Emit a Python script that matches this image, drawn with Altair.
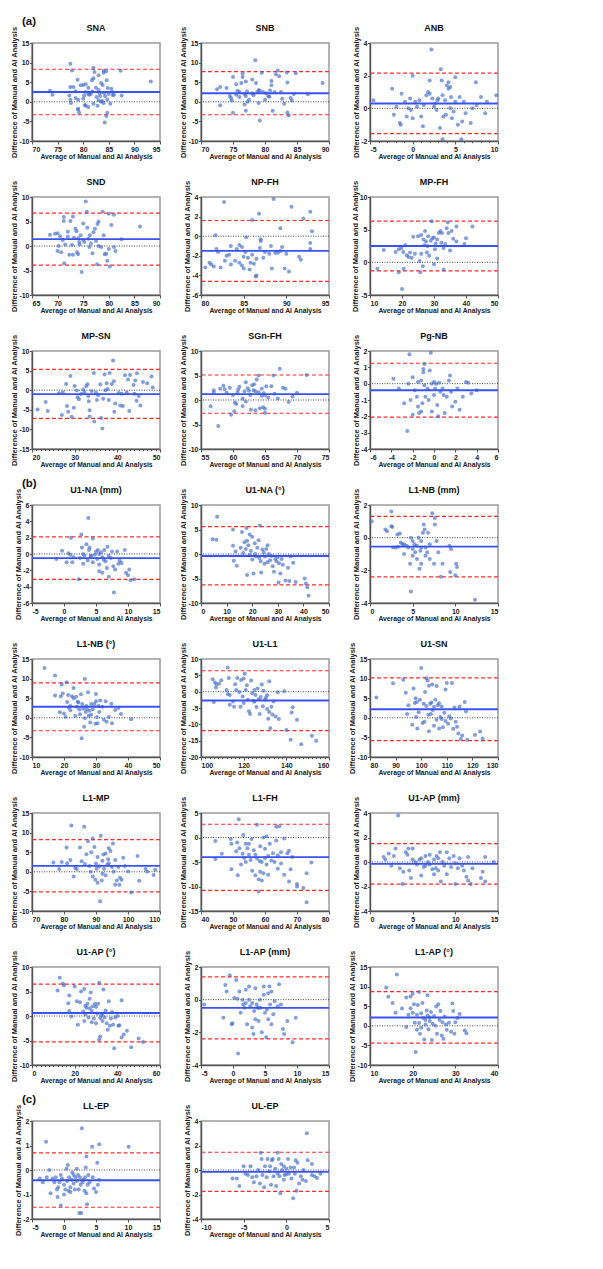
import altair as alt
import pandas as pd

XT = "Average of Manual and AI Analysis"
YT = "Difference of Manual and AI Analysis"

# ---------------- (a) ----------------
SNA = [(73.5, 2.8), (74, 1.8), (77.5, 9.7), (77.8, 8), (77.5, 3.8), (77.3, 1.6), (77.6, -0.3), (77.5, 0.5),
       (78.1, 3.8), (78.5, 2.7), (78.9, 5.6), (79, -1.8), (79, -2), (79.2, -2.8), (78.5, 1), (79, 0.5),
       (79.5, 4.2), (80, 4.3), (80.5, 4.5), (80.2, 1.6), (80.5, -1), (80.3, -0.8), (81, 3.6), (81, 2),
       (81.2, 1.8), (81.5, 2), (81, -1.3), (81.7, 5.5), (82, 6), (82, 8.7), (82.2, 7.6), (82.5, 3.6),
       (82, -0.5), (82.6, 1.2), (83, 6.8), (83, 3), (83.3, 1.5), (83.5, 4.8), (83.5, 0), (83.7, 0.2),
       (83, 0.4), (84, 7.4), (84, 7.9), (84.5, 7.8), (84.3, 1.4), (84.1, 2.2), (84, -0.3), (84.2, -5.3),
       (84.5, -3.6), (84.7, -2.8), (84.6, 5.5), (84.8, 3.5), (85, 2), (85.5, 3.3), (85.3, -0.5), (85.8, 1.7),
       (85.7, 2.5), (86, 1.8), (87.3, 7.9), (87.5, 1.6), (93.2, 5.2), (80.5, 2.5), (81.8, 2.6), (83.8, 4.3),
       (83.2, 2.2), (84.7, 0.5), (82.8, -1), (80, 0.8)]
SNB = [(72.5, 3.2), (73, 3.8), (73, -0.9), (74, 3.5), (74.5, 1.5), (74.7, 1), (75, 6.3), (74.8, 0.3),
       (75.5, 4.5), (75.7, 2.8), (75.5, 1.8), (76, 2.5), (76.3, 4.8), (76.5, 6.3), (76.5, 7.2), (76.8, 2),
       (77, 5.2), (77, 1.5), (76.8, -0.7), (77, -2.3), (77.2, 2.7), (77.5, 0.5), (77.3, 0), (78, 2.2),
       (78, 5.7), (78.5, 10.6), (78.6, 4.8), (78.8, 2.5), (79, 3), (79.2, 2.8), (79.2, -4.8), (79, -0.3),
       (79.5, 7.4), (79.7, 2.5), (80, 0.5), (80.2, 2.2), (80.5, 1.4), (80.7, 1.3), (81, 5.3), (81, 4.2),
       (81.2, -2.3), (81.5, 2.5), (81.7, 7), (82, 8), (82.2, 6.5), (82.5, 2.5), (82.7, 0.8), (83, -0.5),
       (83.4, 7.5), (83.5, 4.9), (83.7, -3.5), (83.5, -2.7), (84, 1), (84.2, 0.3), (84.8, 7.3), (84.5, 2),
       (86.7, 1.9), (89, 4.8), (75, -2.8), (76, 1.2), (78.2, 1.7), (80.8, 2.9)]
ANB = [(-4.6, 0.5), (-2.4, 1.2), (-2.2, -0.4), (-1.4, -1), (-1.5, -0.9), (-1.9, 0.1), (-0.9, 0.4), (-1.3, 0.9),
       (-0.5, 0.0), (-0.3, 0.6), (0, 2), (-0.2, -0.1), (0, -0.6), (0.3, 0.4), (0.5, 0.1), (0.8, 0.5),
       (1, -0.5), (1.3, 0.2), (1.6, 0.8), (1.8, 1.0), (2, 1.7), (2.2, 3.6), (2.3, 0.6), (2.5, 0.1),
       (2.6, 0.3), (2.8, -0.1), (2.9, 0.5), (3, 0.6), (3.2, -1.2), (3.3, 2.4), (3.4, 1.7), (3.5, 0.8),
       (3.5, -1.9), (3.6, -0.5), (3.8, 0.5), (3.9, -0.4), (4.0, 1.4), (4.2, 1.2), (4.2, 1.6), (4.4, 1.3),
       (4.5, 0.7), (4.4, 0), (4.6, -0.6), (4.8, -0.2), (5.0, 1.9), (5.0, 0.4), (5.3, -1.0), (5.5, 0.7),
       (5.7, -1.9), (5.8, -0.8), (6.0, 0.4), (6.2, -0.3), (7.0, 0), (7.4, 1.6), (7.5, 0.2), (8.0, 0.7),
       (8.5, -0.3), (8.7, 0.4), (9.8, 0.8), (6.8, -0.9), (2.0, 0.9), (1.2, -1.1), (-0.7, -0.5)]
SND = [(68.5, 2.3), (69.5, 2.5), (70, 2.6), (70, -1), (70.2, 0), (70.5, 2), (70.7, -1.3), (71, 1.2),
       (71.2, 5.9), (71.2, 5.1), (71.3, -3.5), (71.5, 0.3), (72, 1.9), (72, 2.9), (72.3, -1.8), (72.5, 5.1),
       (72.8, 0.2), (73, 6), (73, -1.8), (73.2, 1.7), (73.5, 3.5), (73.7, 3.0), (73.8, -1.3), (74, -1.7),
       (74, 1.6), (74.3, 0.3), (74.5, 2.2), (74.7, -5.3), (75, 4.6), (75, 1.3), (75.2, 0.8), (75.5, 9.1),
       (75.7, 7), (75.8, 3.7), (76, 1.5), (76.3, 2.2), (76.5, 0.5), (76.8, -1.5), (77, 2.8), (77.3, 3.5),
       (77.5, 1.0), (77.7, -3.7), (77.8, 4.5), (78, 5), (78, 0), (78.5, -0.2), (78.8, 7), (79, 2.2),
       (79.2, -1.7), (79.5, -1.6), (79.7, -3.0), (80, 6.6), (80, -0.6), (80.2, -4.2), (80.5, 4.3), (81, 6.4),
       (81, -0.2), (81.3, -1), (82.5, 1.4), (86.1, 4), (76.2, -0.2), (74.2, 0.8)]
NPFH = [(80.5, -3.2), (81, -2.7), (81.2, -2.9), (81.5, -3.1), (81.7, 0.1), (81.8, -1.3), (82, -1.6), (82.3, -3.2),
        (82.7, 3.5), (82.8, -2.5), (83, -2), (83.3, -1.9), (83.5, -1), (83.5, -2.9), (84, -2.5), (84.2, -1.3),
        (84.5, -0.9), (84.5, -2.7), (84.8, -3.0), (85, -2.1), (85, -3.3), (85.2, -1.6), (85.5, -2.2), (85.3, -0.1),
        (85.7, -3.4), (86, -1.9), (86, 1.65), (86.2, -2.8), (86.4, -4.1), (86.5, -4.0), (86.5, -2.3), (86.8, 2.3),
        (86.9, -1.2), (87, -0.3), (87, -0.5), (87.3, -2.2), (87.5, -1.6), (88, -1.8), (88.2, -1.0), (88.3, -3.3),
        (88.5, 3.8), (88.7, -1.7), (89, -1.7), (89.3, -1.5), (89.3, 0.8), (89.5, -1.1), (89.8, -3.3), (90, -1.8),
        (90.3, -3.6), (90.6, 3.0), (91.5, -2.1), (91.7, -2.4), (92, 1.8), (92.8, 2.5), (92.8, -0.7), (92.8, -1.3),
        (93, 0.5), (84.8, -1.1), (85.8, -2.7)]
MPFH = [(12.3, -1.0), (14.3, 1.9), (18, 1.6), (19, -1.5), (19, 2), (19.8, 2.2), (20, -4.1), (20.4, 1.6),
        (20.5, -1.0), (21, 2.6), (21.5, 1.1), (22, 0.8), (22.5, 1.5), (23, 0.7), (23.5, 3.9), (24, 1.3),
        (25, 4.0), (25.5, 0.2), (25.7, -1.5), (26, 4.2), (26, 1.3), (26.5, -0.6), (26.7, 3.5), (27, 2.6),
        (27.2, 4.8), (27.5, 3.2), (28, 2.5), (28.2, 4), (28.5, 1.0), (29, 3.3), (29.3, 6.3), (29.5, 3.7),
        (30, 3.8), (30.3, 2.0), (30.5, 2.9), (31, 3.5), (31, 0.6), (31.5, 4.5), (32, 4.8), (32.3, 3.0),
        (32.5, 4.5), (33, 2.2), (33, -1.1), (33.5, 2.8), (34, 5.2), (34.3, 6.1), (34.5, 4.5), (35, 1.8),
        (35.5, 4.8), (36, 3.6), (37, 5.5), (37, 3.2), (39.5, 2.8), (40, 3.7), (42, 5.5), (30, -0.3), (27.8, 1.5)]
MPSN = [(21.3, -4.9), (23.2, -3), (23.7, -5.3), (26.3, -0.8), (27, -6.3), (27.2, -0.5), (28, 1.6), (28.2, -4),
        (28.5, -5.5), (29, 3.6), (29.3, -6.8), (29.8, -4.5), (30, 1.1), (30.5, -0.1), (30.7, -1.8), (31, -2.3),
        (31.5, -1.0), (32, 0.2), (32.3, -0.5), (32.7, 1.0), (33, 1.5), (33.2, -1.5), (33.3, -2.8), (33.5, -5.1),
        (33.5, -6.7), (34, -0.2), (34.5, 4.4), (34.6, -8), (35, -0.6), (35.2, -2.5), (35.5, -1.3), (36, 1.5),
        (36.2, -7.1), (36.5, -9.8), (36.7, -2.2), (37, 4.0), (37.2, 0.0), (37.5, 1.8), (37.7, 0.3), (38, -2.5),
        (38.2, 4.4), (38.7, 1.6), (39, 7.6), (39.2, 2.3), (39.3, -5.5), (39.5, -3.4), (40.3, -0.7), (40.7, -3.9),
        (41, -0.9), (41.3, -4), (41.8, 3.8), (42.2, -0.6), (42.5, 2.7), (42.8, -5.3), (43, 3.9), (43.8, 1.3),
        (44, -0.9), (44.2, 2.5), (44.5, -2.7), (45, -1.5), (44.6, 4.3), (45.4, -3.9), (46, 2.1), (47, 1.8),
        (48, 3.5), (48.3, 0.7)]
SGNFH = [(56.5, -1.3), (57, 1.5), (57, 2), (57.7, -5.3), (58, 2.3), (58.5, 2.9), (58.7, 2.2), (59, 1.5),
         (59.5, 2.5), (59.7, -3.0), (60, 1.0), (60.2, -2.3), (60.3, -0.5), (60.5, -0.8), (60.8, 2.1), (61, 2.7),
         (61.5, 0.3), (61.5, -1.2), (61.8, 1.8), (62, -0.3), (62, 3.6), (62.3, 2.4), (62.5, 1.9), (62.8, -2.0),
         (63, 3.0), (63.2, 2.0), (63.3, 3.2), (63.5, -2.1), (63.5, 1.8), (63.7, 4.2), (64, 5), (64, 1.6),
         (64.2, -1.7), (64.5, 0.8), (64.5, 2.3), (64.7, -1.5), (64.8, 1.4), (65, -1.8), (65, -2.6), (65, 1.0),
         (65.2, 2.8), (65.5, 0.5), (66, 2.8), (66.3, 5), (66.5, 1.3), (67, 0.3), (67.3, 6.4), (67.8, 2.5),
         (68.2, 2.3), (68.7, -0.4), (69.3, 0.7), (70, 1.5), (71.5, 5.1), (62.7, 1.0), (60.7, 1.5)]
PGNB = [(-3.8, 0.3), (-3.3, -0.3), (-2.8, -1.2), (-2.5, -2.9), (-2.4, 0), (-2.3, 1.8), (-2.2, -1.0), (-2.0, 0.4),
        (-2.0, -1.9), (-1.8, -0.4), (-1.6, -0.8), (-1.5, 0.1), (-1.5, -1.4), (-1.4, -1.8), (-1.2, 0.2), (-1.1, -1.2),
        (-1.0, 0.9), (-1.0, 0.7), (-0.9, 1.2), (-0.9, -0.1), (-0.8, -0.8), (-0.6, -0.3), (-0.5, -1.0), (-0.4, 0.8),
        (-0.3, 1.9), (-0.2, 0.0), (-0.2, -1.7), (0.0, 0.1), (0.0, -0.7), (0.1, -0.3), (0.2, 0.0), (0.3, -1.3),
        (0.4, -2.0), (0.5, 0.05), (0.6, -0.5), (0.8, -0.3), (1.0, -1.8), (1.2, -0.8), (1.4, 0.2), (1.5, 0.5),
        (1.6, -0.5), (1.7, -1.4), (2.0, -1.1), (2.2, -0.3), (2.4, -1.6), (2.7, -0.8), (3.0, 0.1), (3.2, 0.05),
        (3.5, -0.6), (4.0, -0.4), (-1.2, -1.7), (0.9, -0.7)]

# ---------------- (b) ----------------
U1NA_MM = [(-1.2, -0.6), (-0.3, 0.4), (0.4, -1.0), (0.7, 0.1), (1.0, -0.1), (1.1, 2.0), (1.3, -1.0), (1.5, -0.4),
           (2.3, -3.1), (2.5, -0.5), (2.7, 2.4), (2.8, 0.8), (3.0, 0), (3.0, -1.2), (3.2, -0.2), (3.5, 1.2),
           (3.7, -0.8), (3.8, 4.4), (3.9, 0.5), (4.0, 0.8), (4.2, -0.3), (4.5, 1.9), (4.5, -1.0), (4.8, -0.1),
           (5.0, 0.3), (5.2, -0.6), (5.3, 0.5), (5.5, -1.3), (5.5, -2.1), (5.8, 0.2), (6.0, -0.4), (6.0, -2.3),
           (6.3, 0.5), (6.5, -0.9), (6.7, -1.7), (6.8, 0.9), (7.0, -2.8), (7.0, -0.2), (7.3, -0.5), (7.5, 0.3),
           (7.7, -1.5), (7.8, -4.7), (8.0, -1.9), (8.3, 0.3), (8.5, -1.2), (8.7, -0.8), (9.0, -1.1), (9.5, 0.5),
           (9.7, -2.3), (10.0, -2.6), (10.2, -1.9), (10.4, -3.2), (11.0, -3.1), (5.5, 0.0), (6.2, -0.7), (4.2, -0.2)]
U1NA_DEG = [(4.5, 3.0), (6, 2.9), (6.3, 7.6), (12.5, 5.0), (12.5, 1.7), (12.8, -1.4), (13.5, 0.5), (14, -2.4),
            (15.5, 1.3), (16, 4.5), (16.5, 0.2), (17, 2.4), (17.5, 1.0), (17.8, 5.3), (18, 2.7), (18, -4.3),
            (18.5, 1.8), (19, 4.0), (19.5, 0.6), (20, 3.5), (20, -1.1), (20.5, -4.0), (21, 2.2), (21.2, 0.0),
            (21.5, -0.5), (22, 1.3), (22.5, 2.8), (22.8, -0.8), (23, 5.8), (23.3, -1.5), (23.5, -3.8), (24, 0.9),
            (24.5, 0.3), (24.8, -2.0), (25, -0.5), (25.5, 1.0), (26, -1.7), (26.5, 0.0), (27, -1.3), (27.5, -0.4),
            (28, -2.5), (28.5, -3.6), (29, -1.0), (29.5, -1.5), (30, -0.6), (30.3, -5.8), (30.5, -1.9), (31, -4.0),
            (31.5, -1.0), (32, -2.2), (33, -5.4), (34, -2.8), (34.5, -5.5), (35, -0.5), (36, -1.8), (37, -5.7),
            (40.5, -5.0), (41, -6.0), (41.5, -6.8), (42, -8.5), (26, 1.8), (19, -0.2)]
L1NB_MM = [(0.2, 1.0), (1.8, 0.5), (2.0, 0.4), (2.5, 1.6), (2.5, 0.7), (2.6, 0.65), (2.7, -0.6), (3.0, -0.6),
           (3.2, 0.2), (3.3, -0.55), (3.5, 0.25), (3.6, -0.3), (3.8, -0.4), (4.0, -1.0), (4.0, -0.4), (4.3, -0.5),
           (4.5, -0.6), (4.7, -1.6), (4.8, 0.0), (4.8, -3.3), (5.0, -1.1), (5.0, -0.7), (5.2, -0.4), (5.3, -0.9),
           (5.5, -0.5), (5.5, -1.3), (5.7, 0.0), (5.8, -1.9), (5.9, -0.8), (6.0, -0.2), (6.0, -1.6), (6.2, 0.3),
           (6.3, 0.8), (6.4, 0.5), (6.5, -0.6), (6.5, -1.1), (6.7, -0.9), (6.8, 0.3), (7.0, -1.3), (7.0, -0.4),
           (7.3, 1.5), (7.5, -1.6), (7.6, 1.2), (7.6, 0.8), (7.8, -0.2), (8.0, -0.9), (8.5, -1.6), (8.3, -2.4),
           (9.3, -0.5), (9.4, -2.1), (9.5, -0.7), (10.0, -2.3), (10.1, -1.6), (10.2, -1.8), (12.3, -3.8),
           (6.0, -0.6), (5.0, -0.2)]
L1NB_DEG = [(13.9, 12.7), (17.2, 10.8), (17.2, 5.7), (18.7, 1.4), (19, 5.5), (19.3, 8.5), (19.6, 6.2), (20, 1.1),
            (20.5, 0.2), (20.8, 9.1), (21, 4.0), (21.3, 5.8), (21.5, 2.6), (22, 3), (22, 1.9), (22.5, 5.5),
            (23, 7.6), (23, 5.0), (23.5, 0.5), (23.8, 5.4), (24, 2.8), (24.3, 4.1), (24.5, 3.9), (24.8, 2.1),
            (25, 0.9), (25.3, 6.0), (25.5, -5.2), (25.7, 3.5), (26, 2.3), (26.3, -2.3), (26.5, 9.9), (26.5, -0.1),
            (26.8, 1.5), (27, 3.0), (27.2, 2.2), (27.5, 6.5), (27.7, 0.5), (28, 1.8), (28.2, -1.2), (28.5, 3.5),
            (29, 2.2), (29.5, 3.5), (29.8, -1.5), (30, 6.1), (30, 4.2), (30.3, 0.2), (30.5, -1.4), (30.8, 3.0),
            (31, 1.5), (31.3, 4.4), (32, 2.8), (32.5, -0.5), (33, 4.2), (33.3, -1.0), (34, 0.2), (34.8, 3.6),
            (35, -1.4), (36, 2.0), (37, 2.5), (37.8, 1.0), (41, -0.4), (28.5, 0.8)]
U1L1 = [(105.5, 3.8), (106, -3.2), (106.5, 2.8), (107, 1.3), (107.3, 2.3), (108.5, 2.5), (109.5, 3.5), (112, 0.5),
        (112.5, 7.4), (112.5, -0.7), (113, 4.2), (113.5, -1.0), (113.5, -4.0), (115, -3.0), (115.5, -4.6), (116, 2.3),
        (116.5, 0.5), (117, 4.2), (118, -0.1), (118.5, -4.6), (118.8, 3.6), (119.5, -1.5), (120, 4.0), (120.5, 5.5),
        (121, 0.5), (121.5, 2.0), (122, -2.5), (122.5, -6.0), (123, -6.8), (123.5, 3.4), (124, -0.5), (124.5, -2.8),
        (125, -3.1), (125.5, -1.0), (126, -4.7), (126.5, 1.0), (127, -2.3), (127.5, -6.8), (128, -1.6), (128.5, 2.2),
        (129, -4.5), (129.3, 0.3), (130, -2.5), (130.5, -1.8), (131, -5.3), (131.5, -8.3), (132, -6.2), (132, 3.2),
        (132.5, -11.2), (133, -4.6), (133.5, -7.0), (134, -3.0), (135, -7.6), (136, -0.2), (136.5, -8.4), (139, 0.1),
        (140, -11.7), (142, -14.7), (142.5, -6.4), (143, -4.8), (145, -8.6), (147, -16.1), (152, -13.5), (154, -15),
        (120, -3.5), (125, 0.5), (131, -1)]
U1SN = [(82.5, 5.2), (89, 8.8), (93, 9.7), (94, 6.4), (94.5, 1.0), (95, 3.2), (96.5, -1.8), (97, 7.5),
        (97.5, 3.8), (97.8, 5.0), (98, 0.2), (98.3, 4.0), (98.5, -2.7), (99, 1.4), (99.5, 4.6), (100, 12.7),
        (100.5, -1.3), (101, 3.6), (101.3, -1.0), (101.5, 6.6), (102, 10.1), (102, 3.0), (102.5, 9.5), (102.8, 0.8),
        (103, 8.2), (103, -3.4), (103.5, 3.6), (103.8, 1.0), (104, 3.9), (104.3, 8.5), (104.5, 2.0), (105, 2.8),
        (105, -2.0), (105.5, 4.6), (106, -0.5), (106, 8.1), (106.5, 3.2), (107, -2.7), (107, 3.7), (107.5, 0.2),
        (108, 2.9), (108.5, -2.4), (109, 1.3), (109.5, 7.2), (109.5, -0.8), (110, 8.9), (110.5, -1.5), (111, 0.4),
        (111.5, -0.2), (112, 8.9), (112.5, -2.8), (113, 2.6), (113.5, -1.0), (114, -2.3), (114.5, -4.0), (115, 2.9),
        (115.5, -5.4), (116, -4.5), (117, 4.0), (117.5, 1.6), (118, -5.6), (121, -4.4), (123, -3.5), (124, -5.3),
        (108, -0.3)]
L1MP = [(76.7, 2.4), (78.5, 0.7), (79.3, 2.5), (80.8, 6.2), (81, 2.2), (82, 3.0), (82.3, 11.8), (83, -1.2),
        (83.5, 1.0), (84, 0.7), (85, 6.2), (85.5, 2.7), (86.3, 11.5), (86.5, 2.0), (87, 4.5), (87.5, 7.8),
        (88, 1.5), (88.3, 0.0), (88.5, 5.0), (89, 8.5), (89, -1.2), (89.5, 6.3), (89.8, -2.0), (90, 2.1),
        (90.2, 0.8), (90.5, 3.8), (90.5, -2.8), (91, 1.4), (91.3, -7.5), (91.5, 9.2), (91.8, -2.2), (92, 2.8),
        (92.3, 4.4), (92.5, 0.8), (93, 4.7), (93, -0.9), (93.5, 1.8), (93.8, 3.2), (94, 6.0), (94.5, 5.3),
        (95, 1.2), (95.3, 7.2), (95.5, 0.0), (96, -3.3), (96, 3.0), (96.5, -2.2), (97, 1.2), (97.3, -3.3),
        (97.5, -1.5), (98, -2.0), (98.5, 3.6), (99, 1.5), (100, 0.1), (101, -5.3), (103, 4.0), (103.5, -2.3),
        (105.5, 0.7), (106, 0.0), (108, -0.8), (108.5, 0.5), (92, -0.5), (94, 2.2)]
L1FH = [(44.5, -0.7), (44.5, -4.4), (46.5, -3.3), (49.3, -0.3), (49.5, -1.3), (49.5, -6.5), (51, -2.8), (51.3, -1.0),
        (51.5, -7.7), (51.8, 3.7), (52, -2.2), (52.5, -5.5), (53, -3.3), (53.2, 0.5), (53.5, -4.2), (54, -1.3),
        (54, -5.0), (54.5, -2.2), (55, -3.5), (55, -1.3), (55.5, -4.6), (55.8, -0.3), (56, -6.8), (56.5, -2.6),
        (57, -7.7), (57, -3.5), (57.5, 2.6), (57.5, -4.3), (58, -8.5), (58, -11.0), (58.3, -4.8), (58.5, -1.8),
        (58.5, -7.0), (59, -5.0), (59, -8.8), (59.5, 0.0), (59.5, -7.3), (60, -2.3), (60.5, 0.2), (60.5, -5.5),
        (61, -3.8), (61, -7.6), (61.5, -1.3), (62, -4.7), (62.5, -3.2), (63, -5.0), (63.5, -0.6), (63.5, 2.2),
        (64, -3.6), (64, -6.4), (64.5, 2.3), (65, -3.0), (65, -5.3), (66, -0.2), (66, -7.6), (67, -3.2),
        (67.5, -2.7), (67.5, -9.0), (68, -6.5), (68.5, -4.0), (70, -9.5), (70, -10.0), (72, -10.3), (73, -13.2),
        (73, -7.3), (74.5, -5.1), (60, -4.2)]
U1AP_MM = [(1.6, 0.4), (1.8, 0.2), (2.2, 0.7), (2.5, -0.3), (2.8, 0.5), (3.0, 1.1), (3.3, 3.8), (3.5, -0.5),
           (3.8, -1.8), (3.9, -0.8), (4.2, 0.8), (4.4, 0.6), (4.5, 1.1), (4.6, -0.7), (4.8, -1.3), (5.0, 1.1),
           (5.0, 0.2), (5.3, 0.0), (5.5, -0.2), (5.8, 0.2), (6.0, 0.3), (6.0, -1.1), (6.3, -0.4), (6.5, 0.5),
           (6.5, -0.3), (6.8, 0.0), (7.0, 0.6), (7.0, -0.2), (7.3, -0.6), (7.5, 0.2), (7.5, -1.0), (7.7, -0.5),
           (7.8, 0.5), (8.0, -0.7), (8.0, 0.3), (8.2, 0.8), (8.3, -1.6), (8.5, 0.0), (8.7, -0.3), (9.0, -1.0),
           (9.0, 0.8), (9.3, 0.3), (9.5, -0.4), (9.8, 0.5), (10.0, -1.8), (10.0, -0.1), (10.3, -0.5), (10.5, 0.3),
           (10.8, -0.3), (11.0, -0.7), (11.3, -1.2), (11.5, 0.4), (11.5, -1.5), (11.8, -1.8), (12.0, -0.5),
           (13.0, -1.3), (13.2, -0.8), (13.5, 0.4), (13.5, -1.6), (14.5, 0.0)]
U1AP_DEG = [(12, 5.2), (13, 7.8), (14.5, 6.6), (15, 6.3), (17, 2.6), (17.5, 4.2), (17.5, 1.0), (18.5, -0.1),
            (20, 6.0), (21, 3.0), (21.5, -1.8), (22.5, 2.8), (23, 5.0), (24, 0.9), (24.5, 5.5), (24.5, -1.0),
            (25, 2.1), (25, 0.3), (25.5, 1.7), (26, 2.5), (26.5, -0.3), (27, 3.5), (27, 1.6), (27.5, 4.8),
            (28, 1.0), (28, -1.3), (28.5, 2.0), (29, -0.5), (29.5, 2.5), (30, 1.9), (30, -1.5), (31, 2.5),
            (31.5, -4.8), (31.5, 6.8), (32, -0.4), (32, -4.2), (32.5, 0.1), (33, -1.0), (33.5, 5.4), (34, -0.3),
            (34.5, 1.1), (35, -1.5), (35.5, -2.8), (36, 3.0), (36.5, -2.0), (37, -0.5), (37.5, 0.8), (38, -1.8),
            (38.5, -6.6), (39, -0.3), (40, 0.0), (40.5, -2.0), (41, -1.9), (42, 3.2), (42, -4.4), (43, -3.8),
            (44.5, -3.0), (46.5, -6.4), (50, -4.6), (52, -5.3), (30.5, 0.5), (33, 0.4)]
L1AP_MM = [(-4.5, -0.3), (-1.5, -1.1), (-1.2, 0.9), (-1.0, 0.5), (-0.5, 1.5), (-0.2, -1.5), (-0.1, -1.45), (0.2, 0.1),
           (0.5, 1.2), (0.7, 0.05), (0.8, -3.3), (1.0, 0.5), (1.2, -0.8), (1.5, 0.0), (1.6, -0.3), (1.8, -0.5),
           (2.0, 0.6), (2.2, -1.5), (2.5, 0.8), (2.5, 0.0), (2.7, -0.4), (3.0, -0.2), (3.0, -1.7), (3.2, -2.1),
           (3.3, -0.7), (3.5, 0.7), (3.5, -1.2), (3.7, -0.3), (3.8, -0.5), (4.0, -1.3), (4.2, 0.0), (4.3, -0.5),
           (4.5, -2.0), (4.8, 0.3), (4.8, 0.8), (5.0, -0.8), (5.2, -2.3), (5.3, -0.6), (5.5, 0.4), (5.5, -1.2),
           (5.7, 0.8), (5.8, -0.3), (6.0, 0.5), (6.0, -1.5), (6.3, -0.9), (6.5, -0.1), (7.0, -0.4), (7.2, 0.95),
           (7.5, -0.3), (7.8, -1.8), (8.0, -2.1), (8.5, -1.3), (9.3, -2.6), (9.8, -1.1), (2.0, -0.2), (4.0, -0.5)]
L1AP_DEG = [(13.8, 9.8), (14.3, 7.4), (15.3, 5.8), (16.3, 13.1), (16, 3.3), (17.5, 4.4), (18.5, 7.2), (18.5, -0.3),
            (19, 2.8), (19.5, 4.5), (19.5, 7.5), (20, 8.2), (20, 3.3), (20.3, 5.5), (20.5, 0.8), (20.7, -6.7),
            (21, 2.8), (21, -1.0), (21.2, 5.3), (21.5, 8.6), (21.5, 0.7), (21.7, -2.0), (22, 3.2), (22, -0.5),
            (22.3, 5.8), (22.5, 2.0), (22.7, -3.5), (23, 0.3), (23, 1.5), (23.3, 3.9), (23.5, 7.8), (23.5, 2.6),
            (23.7, -0.9), (24, 2.2), (24, 1.2), (24.3, 3.5), (24.5, -3.6), (24.7, 0.5), (25, 2.5), (25.3, 0.0),
            (25.5, 4.9), (25.7, -2.0), (26, 5.5), (26.3, 1.5), (26.5, 3.8), (26.8, -2.5), (27, 0.9), (27.2, -3.3),
            (27.5, 2.4), (27.8, 0.3), (28, -1.0), (28.5, 0.8), (29, -1.5), (29.3, 5.7), (29.5, 3.8), (29.8, -2.0),
            (30, 0.9), (30.5, 2.0), (31, 3.0), (32.2, -1.2), (32.6, -1.9)]

# ---------------- (c) ----------------
LLEP = [(-3.8, -0.35), (-3.3, -0.5), (-2.8, 1.15), (-2.7, -0.3), (-2.3, 0.0), (-2.1, -0.95), (-1.8, -0.35),
        (-1.5, -0.5), (-1.3, -0.3), (-1.1, -0.8), (-1.0, -1.1), (-0.9, -0.7), (-0.7, -0.5), (-0.5, -1.45),
        (-0.5, -0.2), (-0.3, -0.35), (0.0, -1.0), (0.0, -0.6), (0.2, -0.8), (0.4, 0.05), (0.5, -0.45), (0.6, 0.2),
        (0.8, -0.3), (1.0, -0.7), (1.0, -0.9), (1.2, -0.4), (1.3, -0.1), (1.5, -0.55), (1.7, -0.8), (1.8, -0.3),
        (2.0, 0.05), (2.0, -0.45), (2.2, -0.2), (2.3, -0.8), (2.4, -1.75), (2.5, -0.3), (2.6, -0.6), (2.7, -1.75),
        (2.8, 1.7), (2.9, -0.5), (3.0, -0.4), (3.2, -0.85), (3.3, -0.3), (3.4, 0.1), (3.5, 0.55), (3.5, -0.95),
        (3.6, -1.4), (3.7, -0.6), (3.8, -0.2), (4.0, -0.5), (4.4, 0.95), (4.5, -0.3), (4.7, -0.75), (5.0, -0.9),
        (5.2, 0.3), (5.3, -0.6), (5.5, 1.05), (5.5, -0.4), (10.1, 0.95), (1.5, -0.2), (0.7, -0.85)]
ULEP = [(-6.3, -0.7), (-5.8, -0.7), (-5.5, -1.3), (-5.0, 0.3), (-4.8, -0.3), (-4.5, -0.4), (-4.2, 0.3), (-4.0, -0.6),
        (-3.8, -1.0), (-3.5, -0.5), (-3.3, 0.0), (-3.1, -1.1), (-3.0, 1.4), (-2.9, 0.9), (-2.8, -0.4), (-2.6, -1.4),
        (-2.5, 0.3), (-2.3, -0.6), (-2.2, 0.9), (-2.0, -0.1), (-1.9, 0.3), (-1.8, -1.2), (-1.7, 0.8), (-1.6, 0.9),
        (-1.5, -0.5), (-1.3, 0.1), (-1.2, -1.3), (-1.0, 1.4), (-1.0, -0.3), (-0.9, 0.9), (-0.8, -0.5), (-0.7, -1.9),
        (-0.6, 0.5), (-0.5, 0.0), (-0.3, -0.8), (-0.2, -0.4), (0.0, 0.1), (0.0, -0.35), (0.2, 0.9), (0.3, -0.3),
        (0.5, 0.2), (0.6, -0.7), (0.8, -2.3), (0.9, 0.2), (1.0, -0.3), (1.1, 0.8), (1.2, -1.7), (1.3, 0.6),
        (1.5, -1.1), (1.7, -0.5), (1.9, -0.8), (2.0, 0.0), (2.3, -0.9), (2.4, 3.0), (2.5, 0.8), (3.0, 0.5),
        (3.0, -0.4), (3.3, -0.5), (3.6, -0.65), (4.0, -0.3), (-0.3, 0.3)]

# panel: name, points, x domain, x ticks, x minor ticks, y domain, y ticks, mean, upper LoA, lower LoA
GROUP_A = [
    dict(name="SNA", pts=SNA, xd=[70, 95], xt=[70, 75, 80, 85, 90, 95], yd=[-10, 15], yt=[-10, -5, 0, 5, 10, 15], mean=2.5, up=8.3, lo=-3.3),
    dict(name="SNB", pts=SNB, xd=[70, 90], xt=[70, 75, 80, 85, 90], yd=[-10, 15], yt=[-10, -5, 0, 5, 10, 15], mean=2.2, up=7.7, lo=-3.3),
    dict(name="ANB", pts=ANB, xd=[-5, 10], xt=[-5, 0, 5, 10], xm=list(range(-5, 11)), yd=[-2, 4], yt=[-2, 0, 2, 4], mean=0.3, up=2.15, lo=-1.55),
    dict(name="SND", pts=SND, xd=[65, 90], xt=[65, 70, 75, 80, 85, 90], yd=[-10, 10], yt=[-10, -5, 0, 5, 10], mean=1.4, up=6.7, lo=-3.9),
    dict(name="NP-FH", pts=NPFH, xd=[80, 95], xt=[80, 85, 90, 95], yd=[-6, 4], yt=[-6, -4, -2, 0, 2, 4], mean=-1.5, up=1.6, lo=-4.6),
    dict(name="MP-FH", pts=MPFH, xd=[10, 50], xt=[10, 20, 30, 40, 50], yd=[-5, 10], yt=[-5, 0, 5, 10], mean=2.5, up=6.3, lo=-1.3),
    dict(name="MP-SN", pts=MPSN, xd=[20, 50], xt=[20, 30, 40, 50], xm=list(range(20, 51)), yd=[-15, 10], yt=[-15, -10, -5, 0, 5, 10], mean=-1.0, up=5.3, lo=-7.2),
    dict(name="SGn-FH", pts=SGNFH, xd=[55, 75], xt=[55, 60, 65, 70, 75], yd=[-10, 10], yt=[-10, -5, 0, 5, 10], mean=1.2, up=5.1, lo=-2.7),
    dict(name="Pg-NB", pts=PGNB, xd=[-6, 6], xt=[-6, -4, -2, 0, 2, 4, 6], yd=[-4, 2], yt=[-4, -3, -2, -1, 0, 1, 2], mean=-0.4, up=1.25, lo=-2.05),
]
GROUP_B = [
    dict(name="U1-NA (mm)", pts=U1NA_MM, xd=[-5, 15], xt=[-5, 0, 5, 10, 15], yd=[-6, 6], yt=[-6, -4, -2, 0, 2, 4, 6], mean=-0.5, up=2.1, lo=-3.1),
    dict(name="U1-NA (°)", pts=U1NA_DEG, xd=[0, 50], xt=[0, 10, 20, 30, 40, 50], yd=[-10, 10], yt=[-10, -5, 0, 5, 10], mean=-0.4, up=5.6, lo=-6.3),
    dict(name="L1-NB (mm)", pts=L1NB_MM, xd=[0, 15], xt=[0, 5, 10, 15], yd=[-4, 2], yt=[-4, -2, 0, 2], mean=-0.55, up=1.3, lo=-2.4),
    dict(name="L1-NB (°)", pts=L1NB_DEG, xd=[10, 50], xt=[10, 20, 30, 40, 50], yd=[-10, 15], yt=[-10, -5, 0, 5, 10, 15], mean=2.8, up=8.9, lo=-3.3),
    dict(name="U1-L1", pts=U1L1, xd=[100, 160], xt=[100, 120, 140, 160], xm=list(range(100, 161, 2)), yd=[-20, 10], yt=[-20, -15, -10, -5, 0, 5, 10], mean=-2.7, up=6.4, lo=-11.9),
    dict(name="U1-SN", pts=U1SN, xd=[80, 130], xt=[80, 90, 100, 110, 120, 130], yd=[-10, 15], yt=[-10, -5, 0, 5, 10, 15], mean=2.2, up=10.2, lo=-5.8),
    dict(name="L1-MP", pts=L1MP, xd=[70, 110], xt=[70, 80, 90, 100, 110], yd=[-10, 15], yt=[-10, -5, 0, 5, 10, 15], mean=1.5, up=8.2, lo=-5.1),
    dict(name="L1-FH", pts=L1FH, xd=[40, 80], xt=[40, 50, 60, 70, 80], yd=[-15, 5], yt=[-15, -10, -5, 0, 5], mean=-4.0, up=2.7, lo=-10.8),
    dict(name="U1-AP (mm)", pts=U1AP_MM, xd=[0, 15], xt=[0, 5, 10, 15], yd=[-4, 4], yt=[-4, -2, 0, 2, 4], mean=-0.15, up=1.5, lo=-1.8),
    dict(name="U1-AP (°)", pts=U1AP_DEG, xd=[0, 60], xt=[0, 20, 40, 60], xm=list(range(0, 61, 2)), yd=[-10, 10], yt=[-10, -5, 0, 5, 10], mean=0.6, up=6.5, lo=-5.3),
    dict(name="L1-AP (mm)", pts=L1AP_MM, xd=[-5, 15], xt=[-5, 0, 5, 10, 15], yd=[-4, 2], yt=[-4, -2, 0, 2], mean=-0.5, up=1.4, lo=-2.4),
    dict(name="L1-AP (°)", pts=L1AP_DEG, xd=[10, 40], xt=[10, 20, 30, 40], yd=[-10, 15], yt=[-10, -5, 0, 5, 10, 15], mean=2.1, up=8.7, lo=-4.4),
]
GROUP_C = [
    dict(name="LL-EP", pts=LLEP, xd=[-5, 15], xt=[-5, 0, 5, 10, 15], yd=[-2, 2], yt=[-2, -1, 0, 1, 2], mean=-0.42, up=0.7, lo=-1.52),
    dict(name="UL-EP", pts=ULEP, xd=[-10, 5], xt=[-10, -5, 0, 5], yd=[-4, 4], yt=[-4, -2, 0, 2, 4], mean=-0.15, up=1.45, lo=-1.75),
]

W, H = 128, 98
FONT = "Liberation Sans"


def label_layer(text, x, y, size, align):
    return alt.Chart(pd.DataFrame({"t": [text]})).mark_text(
        align=align, baseline="middle", fontSize=size, fontWeight="bold", font=FONT, color="#111111"
    ).encode(x=alt.value(x), y=alt.value(y), text="t:N")


def make_panel(p, letter=None):
    df = pd.DataFrame(p["pts"], columns=["x", "y"])
    xs = alt.Scale(domain=p["xd"], nice=False, zero=False)
    ys = alt.Scale(domain=p["yd"], nice=False, zero=False)
    if p.get("xm"):
        test = " || ".join(f"datum.value === {v}" for v in p["xt"])
        xaxis = alt.Axis(values=p["xm"], title=XT, labelExpr=f"({test}) ? '' + datum.value : ''",
                         tickSize={"condition": {"test": test, "value": 3}, "value": 1.7})
    else:
        xaxis = alt.Axis(values=p["xt"], title=XT, labelExpr="'' + datum.value")
    yaxis = alt.Axis(values=p["yt"], title=YT, labelExpr="'' + datum.value", titleFontSize=7.5,
                     tickSize=2.5, labelPadding=0.5, titlePadding=0)
    X = alt.X("x:Q", scale=xs, axis=xaxis)
    Y = alt.Y("y:Q", scale=ys, axis=yaxis)
    zero = alt.Chart(pd.DataFrame({"y": [0]})).mark_rule(
        color="#333333", strokeWidth=0.9, strokeDash=[1, 1.5]).encode(y=Y)
    loa = alt.Chart(pd.DataFrame({"y": [p["up"], p["lo"]]})).mark_rule(
        color="#ff2b2b", strokeWidth=1.2, strokeDash=[4, 2.5]).encode(y=Y)
    mean = alt.Chart(pd.DataFrame({"y": [p["mean"]]})).mark_rule(
        color="#3a52f4", strokeWidth=1.9).encode(y=Y)
    pts = alt.Chart(df).mark_circle(size=16, color="#4a70c6", opacity=0.68).encode(x=X, y=Y)
    layers = [zero, loa, pts, mean, label_layer(p["name"], W / 2, -15, 9, "center")]
    if letter:
        layers.append(label_layer(letter, -10, -21, 11.5, "left"))
    return alt.layer(*layers).properties(width=W, height=H)


panels = []
for group, letter in [(GROUP_A, "(a)"), (GROUP_B, "(b)"), (GROUP_C, "(c)")]:
    for k, p in enumerate(group):
        panels.append(make_panel(p, letter if k == 0 else None))

chart = alt.concat(
    *panels, columns=3, spacing={"row": 56, "column": 41}, bounds="flush",
).properties(
    padding={"left": 2, "top": 7, "right": 5, "bottom": 5}
).configure(font=FONT).configure_view(
    stroke="#9a9a9a", strokeWidth=1.5
).configure_axis(
    domainColor="#555555", domainWidth=1.5, tickColor="#555555", tickWidth=1, tickSize=3,
    labelFont=FONT, labelFontSize=7, labelFontWeight="bold", labelColor="#222222", labelPadding=1,
    titleFont=FONT, titleFontSize=6.8, titleFontWeight="bold", titleColor="#222222", titlePadding=1.5,
    grid=False,
)

chart.save("out.html", embed_options={"renderer": "svg", "actions": False})
